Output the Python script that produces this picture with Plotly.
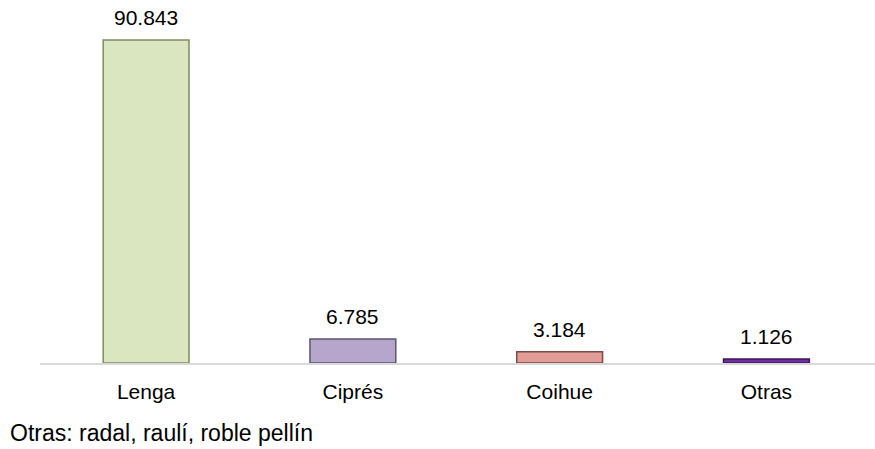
import plotly.graph_objects as go

categories = ["Lenga", "Ciprés", "Coihue", "Otras"]
values = [90.843, 6.785, 3.184, 1.126]
labels = ["90.843", "6.785", "3.184", "1.126"]
colors = ["#d9e6bf", "#b6a6cb", "#e39d98", "#7030a0"]
edge_colors = ["#7f8c63", "#5f5475", "#7d4a46", "#3e1660"]
footnote = "Otras: radal, raulí, roble pellín"

fig = go.Figure()
fig.add_trace(go.Bar(
    x=categories, y=values,
    marker=dict(color=colors, line=dict(color=edge_colors, width=1.5)),
    width=0.415, hoverinfo="x+y",
))
for cat, val, lab in zip(categories, values, labels):
    fig.add_annotation(x=cat, y=val, text=lab, showarrow=False,
                       xanchor="center", yanchor="bottom", yshift=9,
                       font=dict(size=21, color="#000000"))
fig.add_annotation(text=footnote, xref="paper", yref="paper", x=-0.038, y=-0.155,
                   xanchor="left", yanchor="top", showarrow=False,
                   font=dict(size=23, color="#000000"))
fig.update_layout(
    width=875, height=449,
    margin=dict(l=40, r=0, t=10, b=86, pad=0),
    plot_bgcolor="white", paper_bgcolor="white",
    showlegend=False,
    font=dict(family="Liberation Sans, Arial", size=21, color="#000000"),
    xaxis=dict(showline=True, linecolor="#d9d9d9", linewidth=2,
               ticks="outside", ticklen=9, tickcolor="rgba(0,0,0,0)",
               tickfont=dict(size=21), range=[-0.513, 3.525], fixedrange=True),
    yaxis=dict(visible=False, range=[0, 99.28], fixedrange=True),
)
fig.write_html("out.html", config={"displayModeBar": False},
               post_script="document.body.style.margin='0';")
